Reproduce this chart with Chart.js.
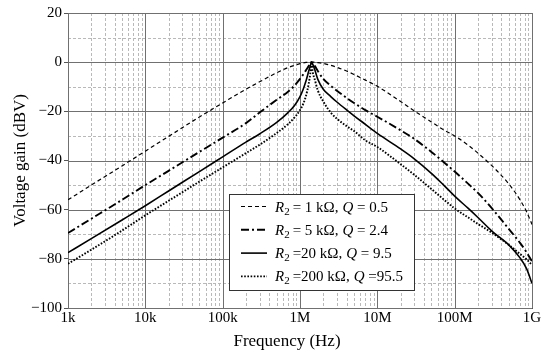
<!DOCTYPE html>
<html>
<head>
<meta charset="utf-8">
<script src="https://cdn.jsdelivr.net/npm/chart.js@4/dist/chart.umd.min.js"></script>
<style>
  html, body { margin: 0; padding: 0; background: #fff; }
  #wrap { width: 550px; height: 359px; }
</style>
</head>
<body>
<div id="wrap"><canvas id="c"></canvas></div>
<script>
// frequencies (Hz), shared by all four curves
var freq = [1e3, 2e3, 5e3, 1e4, 2e4, 5e4, 1e5, 2e5, 3e5, 5e5, 7e5, 8.5e5, 1e6, 1.1e6, 1.2e6, 1.3e6,
            1.36e6, 1.41e6, 1.46e6, 1.55e6, 1.7e6, 2e6, 2.5e6, 3e6, 4e6, 5e6, 7e6, 1e7, 2e7, 3e7,
            5e7, 7e7, 1e8, 1.5e8, 2e8, 3e8, 5e8, 7e8, 8.5e8, 1e9];

// voltage gain (dBV)
var gainQ05  = [-56, -50, -42.2, -36.2, -30.2, -22.3, -16.6, -11, -8, -4.3, -2.2, -1.3, -0.6, -0.3, -0.1, 0,
                0, 0, 0, 0, -0.2, -0.5, -1.3, -2.1, -3.6, -5, -7.3, -9.8, -16, -19.8,
                -24.3, -27.3, -30, -33.8, -37, -42, -49.5, -56, -60.8, -66];
var gainQ24  = [-69.5, -63.7, -56, -50, -44.2, -36.5, -30.7, -24.8, -20.5, -15.3, -12, -9.5, -6.8, -5, -3.2, -1.5,
                -0.6, 0, -0.4, -1.5, -3.6, -6.8, -9.6, -11.6, -14.5, -16.6, -19.5, -22.2, -27.7, -31.2,
                -36.5, -40.3, -44.5, -49.5, -53.2, -59.3, -67.8, -73.5, -77.3, -81];
var gainQ95  = [-77.5, -71.8, -64.2, -58.4, -52.4, -44.5, -38.5, -32.5, -29.2, -24.5, -20.5, -17.6, -14, -11, -7.5, -3.5,
                -1.5, 0, -0.8, -3, -7, -11, -14, -16.2, -19.4, -21.8, -25.3, -29, -35.3, -39.3,
                -45.2, -49.6, -54.5, -59.5, -63.2, -68.6, -74.3, -79.6, -84, -90];
var gainQ955 = [-82, -76.3, -68.5, -62.3, -56.4, -48.6, -42.8, -37, -33.6, -28.8, -25.2, -22.5, -19.5, -17, -13.5, -8.5,
                -4.5, 0, -4, -7, -11.5, -16, -20.5, -23, -26, -28, -31.8, -34.5, -41.5, -45.8,
                -51.6, -55.5, -59.5, -63.2, -65.8, -69.3, -74.3, -78, -80.2, -82.5];

var xTicks = [1e3, 1e4, 1e5, 1e6, 1e7, 1e8, 1e9];
var xTickLabels = ['1k', '10k', '100k', '1M', '10M', '100M', '1G'];
var yTicks = [-100, -80, -60, -40, -20, 0, 20];

var legendR = ['= 1 k\u03A9,', '= 5 k\u03A9,', '=20 k\u03A9,', '=200 k\u03A9,'];
var legendQ = [' = 0.5', ' = 2.4', ' = 9.5', ' =95.5'];

var serif = "'Liberation Serif', 'DejaVu Serif', serif";
Chart.defaults.font.family = serif;
Chart.defaults.color = '#000';

function pts(vals) {
  return vals.map(function(v, i) { return { x: freq[i], y: v }; });
}

var styles = [
  { dash: [4, 3], width: 1.2 },
  { dash: [8, 3, 2, 3], width: 1.9 },
  { dash: [], width: 1.6 },
  { dash: [1.6, 1.6], width: 1.9 }
];
var series = [gainQ05, gainQ24, gainQ95, gainQ955];

var datasets = series.map(function(s, i) {
  return {
    data: pts(s),
    borderColor: '#000',
    borderWidth: styles[i].width,
    borderDash: styles[i].dash,
    pointRadius: 0,
    fill: false,
    cubicInterpolationMode: 'monotone'
  };
});

function line(ctx, x1, y1, x2, y2) {
  ctx.beginPath(); ctx.moveTo(x1, y1); ctx.lineTo(x2, y2); ctx.stroke();
}

// log grid: dashed minor lines, solid decades
var gridPlugin = {
  id: 'bodeGrid',
  beforeDatasetsDraw: function(chart) {
    var ctx = chart.ctx, a = chart.chartArea, x = chart.scales.x, y = chart.scales.y;
    ctx.save();
    ctx.lineWidth = 1;
    ctx.strokeStyle = '#b9b9b9';
    ctx.setLineDash([3, 2]);
    for (var d = 1e3; d < 1e9; d *= 10) {
      for (var m = 2; m <= 9; m++) {
        var px = Math.round(x.getPixelForValue(m * d)) + 0.5;
        line(ctx, px, a.top, px, a.bottom);
      }
    }
    for (var v = -90; v < 20; v += 20) {
      var py = Math.round(y.getPixelForValue(v)) + 0.5;
      line(ctx, a.left, py, a.right, py);
    }
    ctx.setLineDash([]);
    ctx.strokeStyle = '#707070';
    xTicks.forEach(function(t) {
      var px = Math.round(x.getPixelForValue(t)) + 0.5;
      line(ctx, px, a.top, px, a.bottom);
    });
    yTicks.forEach(function(t) {
      var py = Math.round(y.getPixelForValue(t)) + 0.5;
      line(ctx, a.left, py, a.right, py);
    });
    ctx.restore();
  }
};

// boxed legend inside the plot + axis titles
var legendPlugin = {
  id: 'boxLegend',
  afterDatasetsDraw: function(chart) {
    var ctx = chart.ctx, a = chart.chartArea;
    var bx = a.left + 161, by = a.top + 181, bw = 185, bh = 96;
    ctx.save();
    ctx.fillStyle = '#fff';
    ctx.fillRect(bx, by, bw, bh);
    ctx.strokeStyle = '#333';
    ctx.lineWidth = 1;
    ctx.strokeRect(bx + 0.5, by + 0.5, bw, bh);
    ctx.textBaseline = 'alphabetic';
    ctx.fillStyle = '#000';
    for (var i = 0; i < 4; i++) {
      var cy = by + 12.5 + i * 23.3;
      ctx.strokeStyle = '#000';
      ctx.lineWidth = styles[i].width;
      ctx.setLineDash(styles[i].dash);
      line(ctx, bx + 12, cy, bx + 38, cy);
      ctx.setLineDash([]);
      var base = cy + 5;
      var tx = bx + 46;
      ctx.font = 'italic 15px ' + serif;
      ctx.fillText('R', tx, base);
      tx += ctx.measureText('R').width;
      ctx.font = '11px ' + serif;
      ctx.fillText('2', tx, base + 3);
      tx += ctx.measureText('2').width + 3;
      ctx.font = '15px ' + serif;
      ctx.fillText(legendR[i], tx, base);
      tx = Math.max(bx + 113, tx + ctx.measureText(legendR[i]).width + 4);
      ctx.font = 'italic 15px ' + serif;
      ctx.fillText('Q', tx, base);
      tx += ctx.measureText('Q').width;
      ctx.font = '15px ' + serif;
      ctx.fillText(legendQ[i], tx, base);
    }
    // axis titles
    ctx.font = '17px ' + serif;
    ctx.textAlign = 'center';
    ctx.fillText('Frequency (Hz)', 287, 346);
    ctx.translate(21, (a.top + a.bottom) / 2);
    ctx.rotate(-Math.PI / 2);
    ctx.textBaseline = 'middle';
    ctx.fillText('Voltage gain (dBV)', 0, 0);
    ctx.restore();
  }
};

var config = {
  type: 'line',
  data: { datasets: datasets },
  options: {
    responsive: true,
    maintainAspectRatio: false,
    animation: false,
    layout: { padding: { top: 13, right: 18, bottom: 0, left: 0 } },
    plugins: { legend: { display: false }, tooltip: { enabled: false } },
    scales: {
      x: {
        type: 'logarithmic',
        min: 1e3,
        max: 1e9,
        afterBuildTicks: function(s) { s.ticks = xTicks.map(function(v) { return { value: v }; }); },
        afterFit: function(s) { s.height = 51; },
        ticks: {
          autoSkip: false,
          maxRotation: 0,
          padding: 1,
          font: { size: 15 },
          callback: function(v, i) { return xTickLabels[i]; }
        },
        grid: { drawOnChartArea: false, drawTicks: false },
        border: { display: true, color: '#555' }
      },
      y: {
        min: -100,
        max: 20,
        afterBuildTicks: function(s) { s.ticks = yTicks.map(function(v) { return { value: v }; }); },
        afterFit: function(s) { s.width = 68; },
        ticks: {
          padding: 2,
          font: { size: 15 },
          callback: function(v) { return String(v).replace('-', '\u2212'); }
        },
        grid: { drawOnChartArea: false, tickLength: 4, color: '#555' },
        border: { display: true, color: '#555' }
      }
    }
  },
  plugins: [gridPlugin, legendPlugin]
};

var chart = new Chart(document.getElementById('c').getContext('2d'), config);
</script>
</body>
</html>
